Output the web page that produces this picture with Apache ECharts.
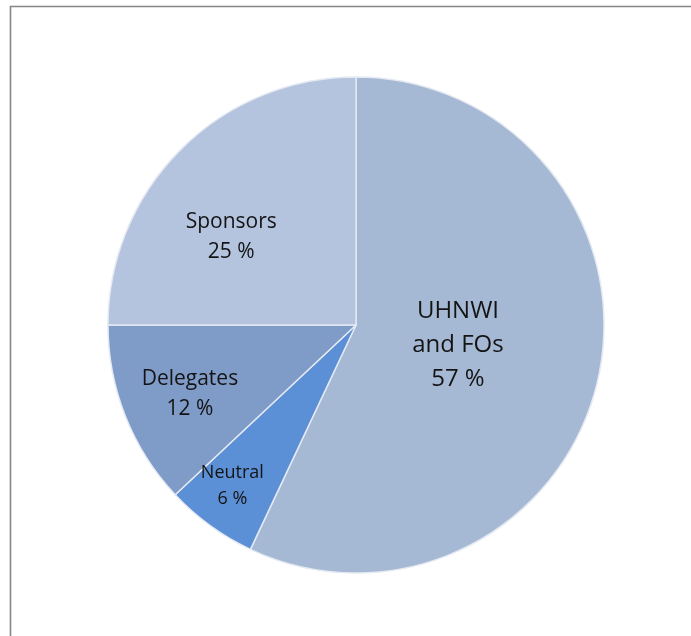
<!DOCTYPE html>
<html>
<head>
<meta charset="utf-8">
<script src="https://cdn.jsdelivr.net/npm/echarts@6/dist/echarts.min.js"></script>
<style>
html,body{margin:0;padding:0;background:#fff;}
#chart{width:691px;height:636px;}
</style>
</head>
<body>
<div id="chart"></div>
<script>
var categories = ['UHNWI\nand FOs', 'Neutral', 'Delegates', 'Sponsors'];
var values = [57, 6, 12, 25];
var colors = ['#a6b9d4', '#5b8fd6', '#7f9bc8', '#b4c4df'];
var fontSizes = [24, 18, 21, 21];
var labelOffsets = [[-22, -8], [-49, 58], [-48, 22], [-35, 2]];

var chart = echarts.init(document.getElementById('chart'), null, {renderer: 'canvas'});
var data = categories.map(function (c, i) {
  return {
    name: c,
    value: values[i],
    itemStyle: {color: colors[i]},
    label: {fontSize: fontSizes[i], lineHeight: Math.round(fontSizes[i] * 1.42), offset: labelOffsets[i]}
  };
});
chart.setOption({
  animation: false,
  graphic: [{
    type: 'rect',
    shape: {x: 10.5, y: 6.5, width: 700, height: 700},
    style: {fill: 'none', stroke: '#868686', lineWidth: 1.6},
    silent: true
  }],
  series: [{
    type: 'pie',
    center: [356, 325],
    radius: [0, 248],
    startAngle: 90,
    clockwise: true,
    data: data,
    itemStyle: {borderColor: '#e4e9f2', borderWidth: 1.5},
    label: {
      show: true,
      position: 'inside',
      color: '#141414',
      fontFamily: 'Open Sans',
      formatter: function (p) { return p.name + '\n' + p.value + ' %'; }
    },
    labelLine: {show: false},
    emphasis: {disabled: true}
  }]
});
</script>
</body>
</html>
